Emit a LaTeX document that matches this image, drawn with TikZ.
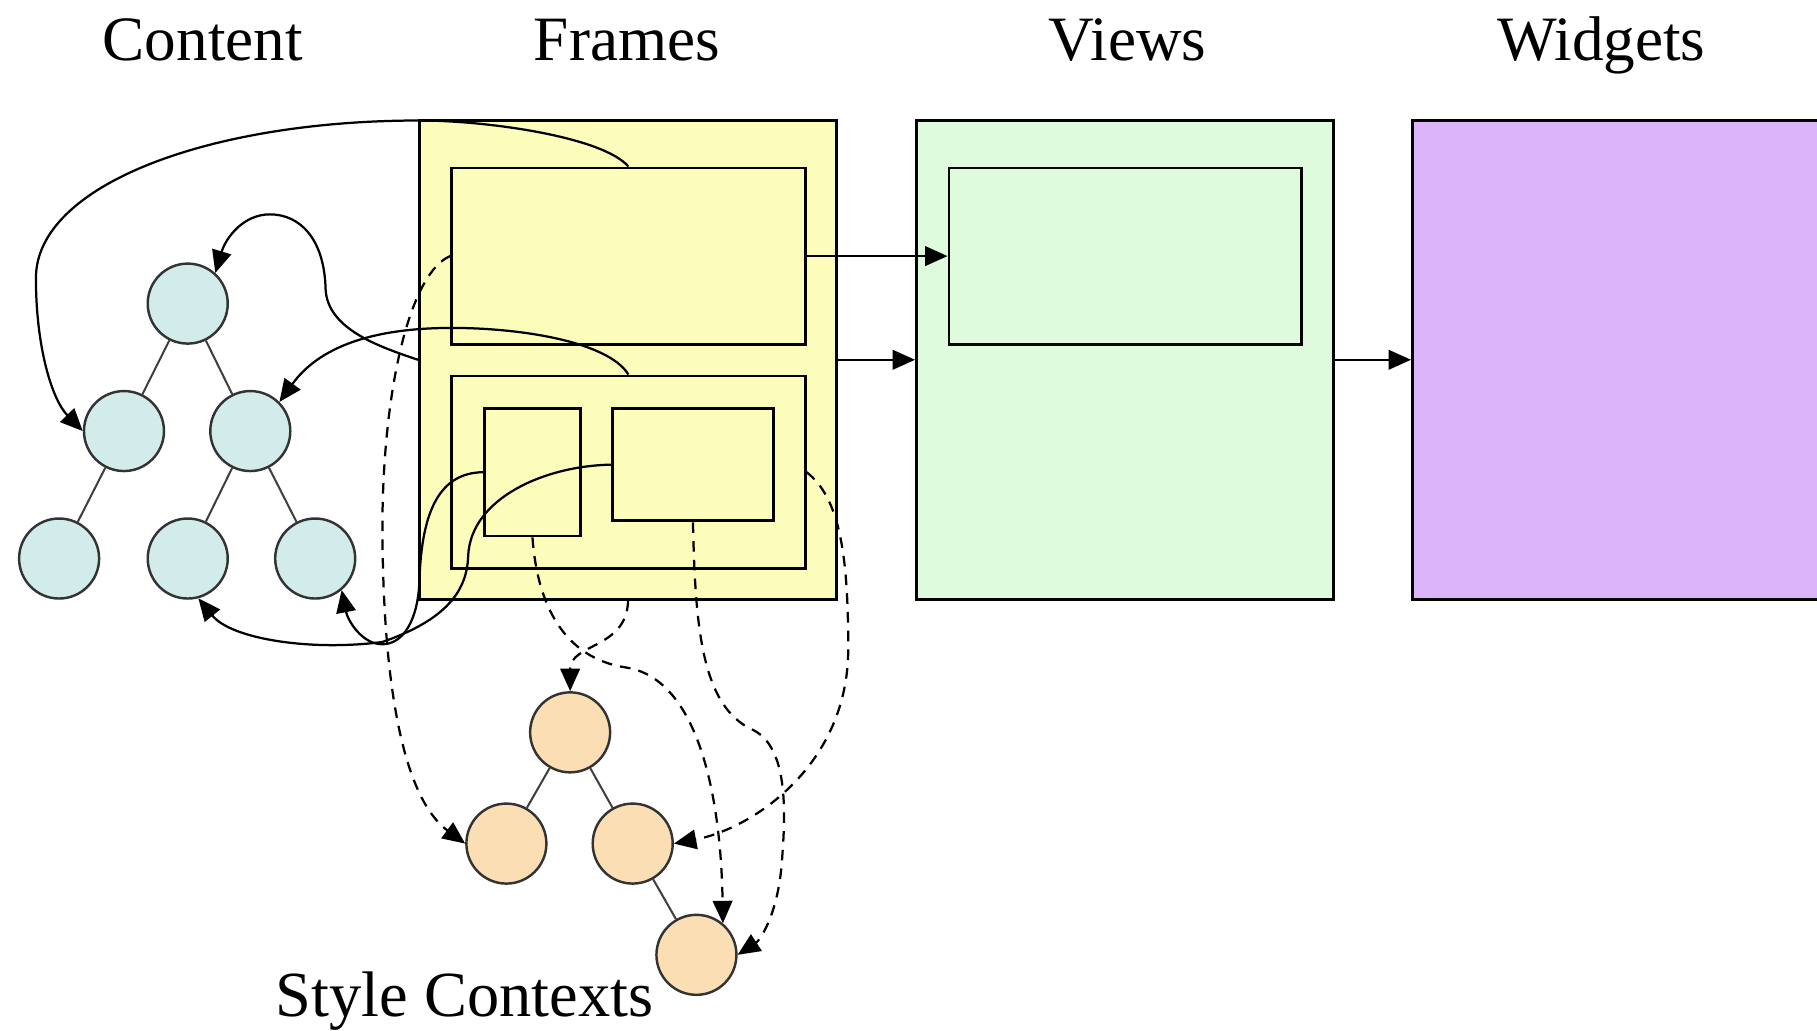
\documentclass[tikz,border=0pt]{standalone}
\usepackage{fontspec}
\setmainfont{Liberation Serif}
\usetikzlibrary{arrows.meta}
\definecolor{frameyellow}{HTML}{FCFCBB}
\definecolor{viewgreen}{HTML}{DEFBDE}
\definecolor{widgetpurple}{HTML}{DCB5F8}
\definecolor{contentblue}{HTML}{D2EBEB}
\definecolor{styleorange}{HTML}{FCDEB4}
\begin{document}
\begin{tikzpicture}[x=0.01cm,y=-0.01cm,
        box/.style={draw,line width=0.7pt,inner sep=0pt},
        cnode/.style={circle,draw=black!80,fill=contentblue,minimum size=0.69cm,inner sep=0pt,line width=0.6pt},
        snode/.style={cnode,fill=styleorange},
        link/.style={line width=0.55pt,-{Triangle[length=5.5pt,width=4.8pt]}},
        slink/.style={link,dash pattern=on 2.6pt off 2pt},
        title/.style={anchor=base,font=\fontsize{15.5}{18}\selectfont}]
    \useasboundingbox (0,0) rectangle (1568,889);
    \clip (0,0) rectangle (1568,889);
    % column titles
    \node[title] (tcontent) at (175,52) {Content};
    \node[title] (tframes) at (541,52) {Frames};
    \node[title] (tviews) at (973,52) {Views};
    \node[title] (twidgets) at (1382,52) {Widgets};
    \node[anchor=base,font=\fontsize{15.8}{19}\selectfont] (tstyle) at (401,877) {Style Contexts};
    % frames
    \node[box,fill=frameyellow,minimum width=3.6cm,minimum height=4.13cm] (frame) at (542,310.5) {};
    \node[box,minimum width=3.05cm,minimum height=1.52cm] (ftop) at (542.3,221) {};
    \node[box,minimum width=3.05cm,minimum height=1.66cm] (fbot) at (542.3,407.5) {};
    \node[box,minimum width=0.83cm,minimum height=1.10cm] (fsa) at (459.5,407.5) {};
    \node[box,minimum width=1.39cm,minimum height=0.97cm] (fsb) at (598,401) {};
    % views and widgets
    \node[box,fill=viewgreen,minimum width=3.6cm,minimum height=4.13cm] (view) at (971,310.5) {};
    \node[box,minimum width=3.04cm,minimum height=1.52cm] (vtop) at (971,221) {};
    \node[box,fill=widgetpurple,minimum width=3.71cm,minimum height=4.13cm] (widget) at (1404.5,310.5) {};
    \draw[link] (ftop.east) -- (vtop.west);
    \draw[link] (frame.east) -- (view.west);
    \draw[link] (view.east) -- (widget.west);
    % content tree
    \node[cnode] (croot) at (162,262) {};
    \node[cnode] (cl) at (107,372) {};
    \node[cnode] (cr) at (216,372) {};
    \node[cnode] (ca) at (51,482) {};
    \node[cnode] (cb) at (162,482) {};
    \node[cnode] (cc) at (272,482) {};
    % style context tree
    \node[snode] (sroot) at (492,632) {};
    \node[snode] (sl) at (437,728) {};
    \node[snode] (sr) at (546,728) {};
    \node[snode] (sb) at (601,824) {};
    \foreach \a/\b in {croot/cl,croot/cr,cl/ca,cr/cb,cr/cc,sroot/sl,sroot/sr,sr/sb}
        \draw[black!75,line width=0.5pt] (\a) -- (\b);
    % frames -> content
    \draw[link] (ftop.north) .. controls (520,118) and (420,104) .. (362,104)
        .. controls (180,104) and (31,160) .. (31,240)
        .. controls (31,300) and (45,345) .. (cl.west);
    \draw[link] (frame.west) .. controls (330,300) and (283,285) .. (281,250)
        .. controls (280,205) and (258,185) .. (233,185)
        .. controls (210,185) and (195,205) .. (croot.48);
    \draw[link] (fbot.north) .. controls (525,295) and (450,283) .. (390,283)
        .. controls (320,283) and (275,300) .. (cr.45);
    \draw[link] (fsa.west) .. controls (380,408) and (364,440) .. (362,500)
        .. controls (361,535) and (348,556) .. (330,556)
        .. controls (312,556) and (300,535) .. (cc.-50);
    \draw[link] (fsb.west) .. controls (470,402) and (406,430) .. (404,480)
        .. controls (403,510) and (385,535) .. (330,554)
        .. controls (270,562) and (200,552) .. (cb.-75);
    % frames -> style contexts
    \draw[slink] (ftop.west) .. controls (355,235) and (331,330) .. (330,450)
        .. controls (330,600) and (350,690) .. (sl.west);
    \draw[slink] (frame.south) .. controls (541,560) and (492,555) .. (sroot.north);
    \draw[slink] (fsa.south) .. controls (465,540) and (500,570) .. (540,576)
        .. controls (600,585) and (622,680) .. (sb.50);
    \draw[slink] (fsb.south) .. controls (600,540) and (605,610) .. (650,630)
        .. controls (680,645) and (678,700) .. (675,740)
        .. controls (672,790) and (655,812) .. (sb.east);
    \draw[slink] (fbot.east) .. controls (725,430) and (732,480) .. (732,560)
        .. controls (732,660) and (650,715) .. (sr.east);
\end{tikzpicture}
\end{document}
